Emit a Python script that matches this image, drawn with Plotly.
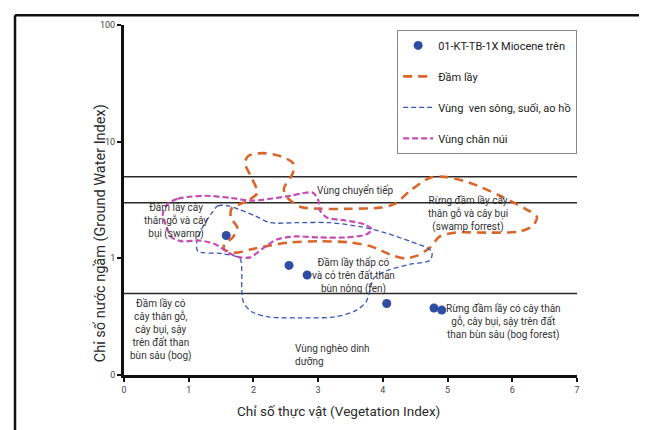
import math
import plotly.graph_objects as go

# ---------------- data ----------------
point_x = [1.58, 2.55, 2.83, 4.06, 4.79, 4.91]
point_y = [1.57, 0.87, 0.72, 0.41, 0.375, 0.36]

# Đầm lầy (orange outline)
swamp_x = [2.06, 1.89, 1.67, 1.65, 1.75, 1.68, 1.55, 1.55, 1.72, 1.95, 2.26, 2.57, 3.03, 3.49, 3.83,
           4.11, 4.34, 4.54, 4.73, 4.88, 5.12, 5.66, 6.12, 6.32, 6.38, 6.20, 5.81, 5.35, 4.96, 4.73,
           4.42, 4.19, 3.96, 3.49, 3.03, 2.72, 2.53, 2.47, 2.61, 2.61, 2.41, 2.13, 1.92, 1.87, 1.98, 2.06]
swamp_y = [3.65, 3.06, 2.72, 2.23, 1.84, 1.51, 1.32, 1.19, 1.12, 1.19, 1.29, 1.37, 1.40, 1.37, 1.26,
           1.08, 1.00, 1.06, 1.24, 1.54, 1.66, 1.66, 1.70, 1.91, 2.27, 2.66, 3.44, 4.43, 4.99, 4.90,
           3.79, 2.94, 2.72, 2.66, 2.66, 2.77, 3.30, 3.94, 5.40, 6.56, 7.53, 7.98, 7.53, 6.56, 4.80, 3.65]

# Vùng ven sông, suối, ao hồ (blue outline)
river_x = [1.36, 1.45, 1.61, 1.79, 2.02, 2.26, 2.64, 3.18, 3.65, 4.03, 4.42, 4.70, 4.76, 4.73, 4.42,
           4.08, 3.86, 3.80, 3.74, 3.57, 3.26, 2.72, 2.23, 1.98, 1.85, 1.82, 1.82, 1.79, 1.51, 1.14,
           1.13, 1.22, 1.36]
river_y = [2.46, 2.82, 2.82, 2.61, 2.32, 2.02, 2.02, 2.02, 1.87, 1.66, 1.40, 1.22, 1.12, 0.962, 0.89,
           0.791, 0.676, 0.534, 0.422, 0.354, 0.315, 0.309, 0.315, 0.347, 0.414, 0.534, 0.791, 1.0, 1.10, 1.15,
           1.42, 1.87, 2.46]

# Vùng chân núi (magenta outline)
foot_x = [0.68, 0.83, 1.02, 1.25, 1.64, 1.95, 2.26, 2.57, 2.80, 2.92, 3.00, 3.03, 3.14, 3.42, 3.72,
          3.83, 3.74, 3.42, 3.03, 2.64, 2.36, 2.15, 1.95, 1.79, 1.61, 1.41, 1.17, 0.90, 0.74, 0.65,
          0.60, 0.68]
foot_y = [2.94, 3.24, 3.37, 3.44, 3.30, 3.12, 3.24, 3.44, 3.65, 3.65, 3.18, 2.56, 2.23, 2.11, 1.95,
          1.77, 1.60, 1.51, 1.51, 1.54, 1.45, 1.22, 1.02, 1.02, 1.12, 1.32, 1.42, 1.40, 1.51, 1.91,
          2.42, 2.94]

boundaries = [5, 3, 0.5]

x_ticks = [0, 1, 2, 3, 4, 5, 6, 7]
y_tickvals = [0.1, 1, 10, 100]
y_ticktext = ["0", "1", "10", "100"]

labels = [
    ("Vùng chuyển tiếp", 3.57, 3.87, "center"),
    ("Đầm lầy cây<br>thân gỗ và cây<br>bụi (swamp)", 0.80, 2.07, "center"),
    ("Rừng đầm lầy cây<br>thân gỗ và cây bụi<br>(swamp forrest)", 5.32, 2.42, "center"),
    ("Đầm lầy thấp có<br>và cỏ trên đất than<br>bùn nông (fen)", 3.55, 0.717, "center"),
    ("Đầm lầy có<br>cây thân gỗ,<br>cây bụi, sậy<br>trên đất than<br>bùn sâu (bog)", 0.57, 0.244, "center"),
    ("Vùng nghèo dinh<br>dưỡng", 2.61, 0.149, "left"),
    ("Rừng đầm lầy có cây thân<br>gỗ, cây bụi, sậy trên đất<br>than bùn sâu (bog forest)", 5.86, 0.285, "center"),
]

FONT = "Roboto, 'Noto Sans', Arial, sans-serif"

fig = go.Figure()

fig.add_trace(go.Scatter(
    x=point_x, y=point_y, mode="markers", name="01-KT-TB-1X Miocene trên",
    marker=dict(color="#2F4DA3", size=9), legendgroup="a"))
fig.add_trace(go.Scatter(
    x=swamp_x, y=swamp_y, mode="lines", name="Đầm lầy",
    line=dict(color="#D8662A", width=2.6, dash="9px,6px", shape="spline", smoothing=0.8),
    legendgroup="b"))
fig.add_trace(go.Scatter(
    x=river_x, y=river_y, mode="lines", name="Vùng\u00a0 ven sông, suối, ao hồ",
    line=dict(color="#3A56B4", width=1.3, dash="5px,3px", shape="spline", smoothing=0.8),
    legendgroup="c"))
fig.add_trace(go.Scatter(
    x=foot_x, y=foot_y, mode="lines", name="Vùng chân núi",
    line=dict(color="#C44DB0", width=2.2, dash="6px,3px", shape="spline", smoothing=0.8),
    legendgroup="d"))

for b in boundaries:
    fig.add_shape(type="line", xref="x", yref="y", x0=0, x1=7, y0=b, y1=b,
                  line=dict(color="#2a2a2a", width=1.5), layer="below")

for text, lx, ly, al in labels:
    fig.add_annotation(x=lx, y=math.log10(ly), xref="x", yref="y", text=text, showarrow=False,
                       align=al, xanchor="left" if al == "left" else "center",
                       font=dict(family=FONT, size=10, color="#333"))

# axis titles
fig.add_annotation(x=0.4746, y=-0.102, xref="paper", yref="paper",
                   xanchor="center", yanchor="middle",
                   text="Chỉ số thực vật (Vegetation Index)", showarrow=False,
                   font=dict(family=FONT, size=13.5, color="#2a2a2a"))
fig.add_annotation(x=-0.053, y=0.405, xref="paper", yref="paper",
                   xanchor="center", yanchor="middle",
                   text="Chỉ số nước ngầm (Ground Water Index)", showarrow=False,
                   textangle=-90, font=dict(family=FONT, size=14.5, color="#2a2a2a"))

# outer frame
fig.add_shape(type="line", xref="paper", yref="paper", x0=-0.2406, x1=-0.2406, y0=1.028, y1=-0.2,
              line=dict(color="#111", width=2.5))
fig.add_shape(type="line", xref="paper", yref="paper", x0=-0.2406, x1=1.1435, y0=1.028, y1=1.028,
              line=dict(color="#111", width=2.5))
fig.add_shape(type="line", xref="paper", yref="paper", x0=1.1435, x1=1.1435, y0=1.028, y1=-0.2,
              line=dict(color="#777", width=1))

fig.update_layout(
    width=639, height=422,
    margin=dict(l=116, r=70, t=14, b=55),
    paper_bgcolor="white", plot_bgcolor="white",
    font=dict(family=FONT, size=11, color="#222"),
    showlegend=True,
    legend=dict(x=0.603, y=0.986, xanchor="left", yanchor="top",
                bgcolor="white", bordercolor="#888", borderwidth=1,
                font=dict(family=FONT, size=11, color="#222"),
                traceorder="grouped", tracegroupgap=12,
                itemwidth=30),
    xaxis=dict(range=[0, 7], tickvals=x_ticks, showgrid=False, zeroline=False,
               showline=True, linecolor="#111", linewidth=3,
               ticks="outside", ticklen=4, tickwidth=1.5, tickcolor="#111",
               tickfont=dict(size=9, color="#444")),
    yaxis=dict(type="log", range=[-1, 2], tickvals=y_tickvals, ticktext=y_ticktext,
               showgrid=False, zeroline=False,
               showline=True, linecolor="#111", linewidth=3,
               ticks="outside", ticklen=4, tickwidth=1.5, tickcolor="#111",
               tickfont=dict(size=9, color="#444")),
)

fig.write_html("out.html")
